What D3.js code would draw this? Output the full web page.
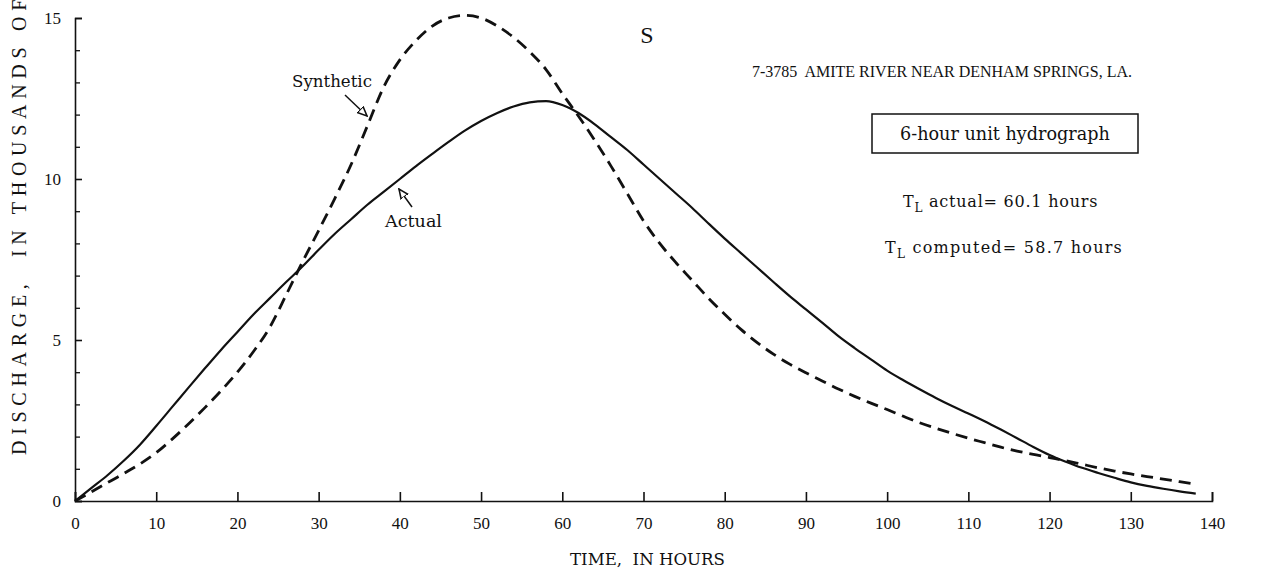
<!DOCTYPE html>
<html>
<head>
<meta charset="utf-8">
<script src="https://cdn.jsdelivr.net/npm/d3@7"></script>
<style>
  html, body { margin: 0; padding: 0; background: #fff; }
  svg { display: block; }
  text { font-family: "Liberation Serif", "DejaVu Serif", serif; fill: #111; white-space: pre; }
  .dv { font-family: "DejaVu Serif", "Liberation Serif", serif; }
</style>
</head>
<body>
<svg id="chart" width="1274" height="573"></svg>
<script>
// ---- data (hours, thousands of cfs) ----
const actualHours = [0,2,4,6,8,10,12,14,16,18,20,22,24,26,28,30,32,34,36,38,40,42,44,46,48,50,52,54,56,58,60,62,64,66,68,70,72,74,76,78,80,82,84,86,88,90,92,94,96,98,100,102,104,106,108,110,112,114,116,118,120,122,124,126,128,130,132,134,136,138];
const actualQ = [0,0.4,0.8,1.25,1.75,2.33,2.93,3.53,4.12,4.7,5.25,5.8,6.3,6.8,7.28,7.8,8.3,8.75,9.2,9.6,10.0,10.4,10.78,11.15,11.5,11.8,12.05,12.25,12.38,12.42,12.3,12.05,11.7,11.3,10.9,10.45,10.0,9.55,9.1,8.62,8.15,7.7,7.25,6.8,6.36,5.95,5.54,5.12,4.75,4.4,4.05,3.75,3.47,3.2,2.95,2.72,2.48,2.22,1.95,1.68,1.43,1.22,1.03,0.87,0.72,0.58,0.47,0.38,0.3,0.23];
const syntheticHours = [0,2,4,6,8,10,12,14,16,18,20,22,24,26,28,30,32,34,36,38,40,42,44,46,48,50,52,54,56,58,60,62,64,66,68,70,72,74,76,78,80,82,84,86,88,90,92,94,96,98,100,102,104,106,108,110,112,114,116,118,120,122,124,126,128,130,132,134,136,138];
const syntheticQ = [0,0.28,0.57,0.85,1.15,1.5,1.93,2.4,2.9,3.43,4.0,4.65,5.4,6.4,7.42,8.4,9.4,10.45,11.65,12.85,13.7,14.3,14.75,15.0,15.08,15.0,14.75,14.4,13.95,13.4,12.65,11.95,11.2,10.4,9.55,8.7,8.0,7.4,6.85,6.3,5.8,5.33,4.92,4.56,4.25,3.98,3.73,3.48,3.25,3.04,2.84,2.63,2.43,2.26,2.1,1.95,1.81,1.67,1.55,1.45,1.35,1.25,1.14,1.03,0.93,0.84,0.76,0.68,0.6,0.52];
const xTicks = [0,10,20,30,40,50,60,70,80,90,100,110,120,130,140];
const yTicks = [0,5,10,15];
const yMinorTicks = [1,2,3,4,6,7,8,9,11,12,13,14];

const xLabel = "TIME,  IN HOURS";
const yLabel = "DISCHARGE,  IN THOUSANDS OF CUBIC FEET PER SECOND";
const stationTitle = "7-3785  AMITE RIVER NEAR DENHAM SPRINGS, LA.";
const boxLabel = "6-hour unit hydrograph";
const panelLetter = "S";

// ---- layout ----
const svg = d3.select("#chart");
const x = d3.scaleLinear().domain([0, 140]).range([75, 1212]);
const y = d3.scaleLinear().domain([0, 15]).range([501, 18]);
const ink = "#111";

function fitFont(sel, target) {
  const fs = parseFloat(sel.attr("font-size"));
  const w = sel.node().getComputedTextLength();
  sel.attr("font-size", (fs * target / w).toFixed(2));
  return sel;
}
function fitSpacing(sel, target) {
  const node = sel.node();
  const w = node.getComputedTextLength();
  const n = node.textContent.length;
  sel.attr("letter-spacing", Math.max(0, (target - w) / n).toFixed(2));
  return sel;
}

// axes
const xAxis = d3.axisBottom(x).tickValues(xTicks).tickSize(-9).tickPadding(16).tickFormat(d3.format("d"));
const gx = svg.append("g").attr("transform", `translate(0,${y(0)})`).call(xAxis);
gx.select(".domain").attr("stroke", ink).attr("stroke-width", 1.6);
gx.selectAll(".tick line").attr("stroke", ink).attr("stroke-width", 1.6);
gx.selectAll(".tick text").attr("font-size", 17).attr("font-family", '"Liberation Serif", serif').attr("fill", ink);

const yAxis = d3.axisLeft(y).tickValues(yTicks).tickSize(-7).tickPadding(14).tickFormat(d3.format("d"));
const gy = svg.append("g").attr("transform", `translate(${x(0)},0)`).call(yAxis);
gy.select(".domain").attr("stroke", ink).attr("stroke-width", 1.6);
gy.selectAll(".tick line").attr("stroke", ink).attr("stroke-width", 1.6);
gy.selectAll(".tick text").attr("font-size", 17).attr("font-family", '"Liberation Serif", serif').attr("fill", ink);

const yMinor = d3.axisLeft(y).tickValues(yMinorTicks).tickSize(-5).tickFormat("");
const gym = svg.append("g").attr("transform", `translate(${x(0)},0)`).call(yMinor);
gym.select(".domain").remove();
gym.selectAll(".tick line").attr("stroke", ink).attr("stroke-width", 1.3);

// curves
const line = d3.line().x(d => x(d[0])).y(d => y(d[1])).curve(d3.curveMonotoneX);
svg.append("path")
  .datum(actualHours.map((h, i) => [h, actualQ[i]]))
  .attr("d", line).attr("fill", "none").attr("stroke", ink).attr("stroke-width", 2.2);
svg.append("path")
  .datum(syntheticHours.map((h, i) => [h, syntheticQ[i]]))
  .attr("d", line).attr("fill", "none").attr("stroke", ink).attr("stroke-width", 2.8)
  .attr("stroke-dasharray", "12,7");

// axis titles
fitFont(svg.append("text").attr("class", "dv").attr("x", 570).attr("y", 565).attr("font-size", 15).text(xLabel), 155);
const yl = svg.append("text").attr("transform", "translate(26,455) rotate(-90)")
  .attr("font-size", 20).text(yLabel);
{
  const n = "DISCHARGE,  IN THOUSANDS ".length;
  const w = yl.node().getSubStringLength(0, n);
  yl.attr("letter-spacing", Math.max(0, (424 - w) / n).toFixed(2));
}

// annotations
svg.append("text").attr("x", 647).attr("y", 43).attr("text-anchor", "middle")
  .attr("font-size", 24).text(panelLetter);
fitSpacing(svg.append("text").attr("x", 752).attr("y", 77).attr("font-size", 16).text(stationTitle), 370);
svg.append("rect").attr("x", 872).attr("y", 114).attr("width", 266).attr("height", 39)
  .attr("fill", "none").attr("stroke", ink).attr("stroke-width", 1.5);
fitFont(svg.append("text").attr("class", "dv").attr("x", 900).attr("y", 140).attr("font-size", 16).text(boxLabel), 210);

function tl(xp, yp, rest, target) {
  const t = svg.append("text").attr("class", "dv").attr("x", xp).attr("y", yp).attr("font-size", 16);
  t.append("tspan").text("T");
  t.append("tspan").attr("font-size", 12).attr("dy", 5).text("L");
  t.append("tspan").attr("dy", -5).text(" " + rest);
  fitSpacing(t, target);
}
tl(903, 207, "actual= 60.1 hours", 195);
tl(885, 253, "computed= 58.7 hours", 238);

fitFont(svg.append("text").attr("class", "dv").attr("x", 292).attr("y", 87).attr("font-size", 16).text("Synthetic"), 80);
fitFont(svg.append("text").attr("class", "dv").attr("x", 385).attr("y", 227).attr("font-size", 16).text("Actual"), 57);

// arrows
const defs = svg.append("defs");
defs.append("marker").attr("id", "ah").attr("viewBox", "0 0 10 10").attr("refX", 9).attr("refY", 5)
  .attr("markerWidth", 7).attr("markerHeight", 7).attr("orient", "auto")
  .append("path").attr("d", "M0,1 L9,5 L0,9 Z").attr("fill", "#fff").attr("stroke", ink).attr("stroke-width", 1.5);
svg.append("line").attr("x1", 345).attr("y1", 95).attr("x2", 367).attr("y2", 116)
  .attr("stroke", ink).attr("stroke-width", 1.5).attr("marker-end", "url(#ah)");
svg.append("line").attr("x1", 412).attr("y1", 207).attr("x2", 399).attr("y2", 189)
  .attr("stroke", ink).attr("stroke-width", 1.5).attr("marker-end", "url(#ah)");
</script>
</body>
</html>
